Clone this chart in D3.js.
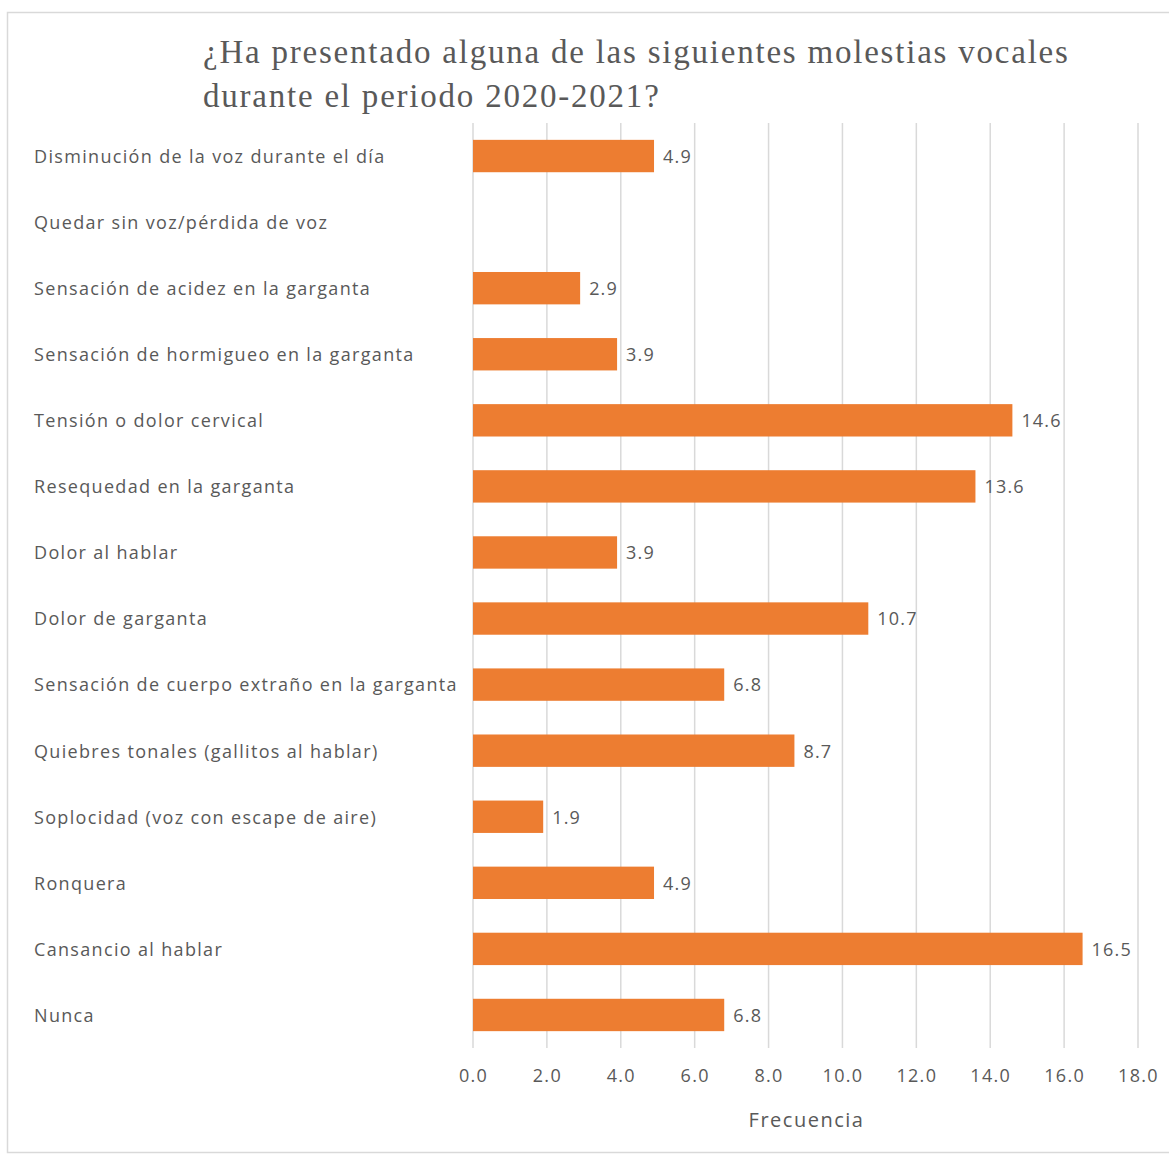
<!DOCTYPE html>
<html><head><meta charset="utf-8">
<script src="https://cdn.jsdelivr.net/npm/d3@7"></script>
<style>body{margin:0;background:#fff}svg{display:block}</style>
</head><body>
<script>
const categories = [
  "Disminución de la voz durante el día",
  "Quedar sin voz/pérdida de voz",
  "Sensación de acidez en la garganta",
  "Sensación de hormigueo en la garganta",
  "Tensión o dolor cervical",
  "Resequedad en la garganta",
  "Dolor al hablar",
  "Dolor de garganta",
  "Sensación de cuerpo extraño en la garganta",
  "Quiebres tonales (gallitos al hablar)",
  "Soplocidad (voz con escape de aire)",
  "Ronquera",
  "Cansancio al hablar",
  "Nunca"
];
const values = [4.9, null, 2.9, 3.9, 14.6, 13.6, 3.9, 10.7, 6.8, 8.7, 1.9, 4.9, 16.5, 6.8];
const tickValues = [0, 2, 4, 6, 8, 10, 12, 14, 16, 18];
const titleLines = ["¿Ha presentado alguna de las siguientes molestias vocales", "durante el periodo 2020-2021?"];
const axisTitle = "Frecuencia";

const W = 1169, H = 1154;
const svg = d3.select("body").append("svg").attr("width", W).attr("height", H);
svg.append("rect").attr("x", 7.5).attr("y", 12.5).attr("width", W + 10).attr("height", H - 14)
  .attr("fill", "#fff").attr("stroke", "#d9d9d9").attr("stroke-width", 1.5);

const pLeft = 473, pRight = 1138, pTop = 123, pBottom = 1048;
const x = d3.scaleLinear().domain([0, 18]).range([pLeft, pRight]);
const y = d3.scaleBand().domain(categories).range([pTop, pBottom]).paddingInner(0.51).paddingOuter(0.255);

// gridlines
svg.append("g").selectAll("line").data(tickValues).join("line")
  .attr("x1", d => x(d)).attr("x2", d => x(d))
  .attr("y1", pTop).attr("y2", pBottom)
  .attr("stroke", "#d9d9d9").attr("stroke-width", 1.5);

// bars
const data = categories.map((c, i) => ({c, v: values[i]})).filter(d => d.v != null);
svg.append("g").selectAll("rect").data(data).join("rect")
  .attr("x", x(0)).attr("y", d => y(d.c))
  .attr("width", d => x(d.v) - x(0)).attr("height", y.bandwidth())
  .attr("fill", "#ED7D31");

// value labels
svg.append("g").selectAll("text").data(data).join("text")
  .attr("x", d => x(d.v) + 9).attr("y", d => y(d.c) + y.bandwidth() / 2)
  .attr("dy", "0.38em")
  .attr("font-family", "Open Sans").attr("font-size", 18).attr("letter-spacing", 1.2).attr("fill", "#595959")
  .text(d => d.v.toFixed(1));

// category labels
svg.append("g").selectAll("text").data(categories).join("text")
  .attr("x", 34).attr("y", d => y(d) + y.bandwidth() / 2)
  .attr("dy", "0.38em")
  .attr("font-family", "Open Sans").attr("font-size", 18).attr("letter-spacing", 1.33).attr("fill", "#595959")
  .text(d => d);

// x axis
const xAxis = d3.axisBottom(x).tickValues(tickValues).tickFormat(d3.format(".1f")).tickSize(0).tickPadding(0);
const gx = svg.append("g").attr("transform", `translate(0,${pBottom})`).call(xAxis);
gx.select(".domain").remove();
gx.selectAll("text").attr("y", 34).attr("dy", 0)
  .attr("font-family", "Open Sans").attr("font-size", 18).attr("letter-spacing", 1.3).attr("fill", "#595959");

svg.append("text").attr("x", (pLeft + pRight) / 2 + 1).attr("y", 1127).attr("text-anchor", "middle")
  .attr("font-family", "Open Sans").attr("font-size", 20).attr("letter-spacing", 1.5).attr("fill", "#595959").text(axisTitle);

// title
svg.append("g").selectAll("text").data(titleLines).join("text")
  .attr("x", 203).attr("y", (d, i) => 63 + i * 44)
  .attr("font-family", "Liberation Serif").attr("font-size", 33).attr("letter-spacing", 1.78).attr("fill", "#595959")
  .text(d => d);
</script>
</body></html>
